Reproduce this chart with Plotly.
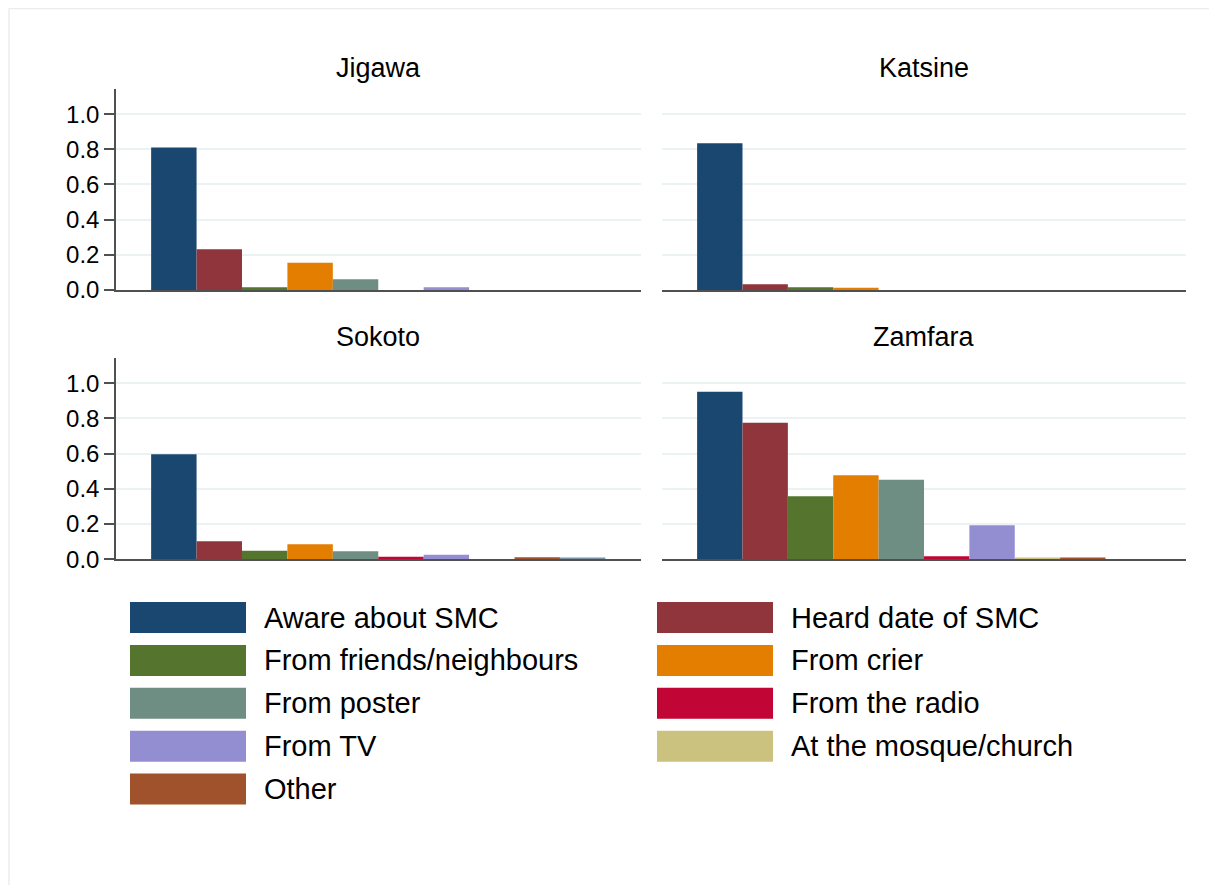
import plotly.graph_objects as go

# ---------------- data ----------------
panels = ["Jigawa", "Katsine", "Sokoto", "Zamfara"]
series = ["Aware about SMC", "Heard date of SMC", "From friends/neighbours",
          "From crier", "From poster", "From the radio", "From TV",
          "At the mosque/church", "Other", "(unlabelled)"]
colors = ["rgb(26,71,111)", "rgb(144,53,59)", "rgb(85,117,47)", "rgb(227,126,0)",
          "rgb(110,142,132)", "rgb(193,5,52)", "rgb(147,141,210)",
          "rgb(202,194,126)", "rgb(160,82,45)", "rgb(123,146,168)"]
jigawa  = [0.81, 0.232, 0.016, 0.155, 0.061, 0.0, 0.015, 0.0, 0.0, 0.0]
katsine = [0.835, 0.032, 0.015, 0.013, 0.0, 0.0, 0.0, 0.0, 0.0, 0.0]
sokoto  = [0.597, 0.102, 0.049, 0.085, 0.045, 0.015, 0.026, 0.0, 0.012, 0.010]
zamfara = [0.951, 0.776, 0.358, 0.477, 0.452, 0.017, 0.193, 0.010, 0.010, 0.0]
values = [jigawa, katsine, sokoto, zamfara]
in_legend = [True] * 9 + [False]
ytick_vals = [0.0, 0.2, 0.4, 0.6, 0.8, 1.0]
ytick_text = ["0.0", "0.2", "0.4", "0.6", "0.8", "1.0"]

OFF = 8  # page body margin
W, H = 1217 - OFF, 885 - OFF
FONT = "Liberation Sans, Arial, Helvetica, sans-serif"
AXC = "rgb(80,80,80)"
GRID = "rgb(234,242,243)"


def px(x):
    return (x - OFF) / W


def py(y):
    return 1 - (y - OFF) / H


fig = go.Figure()

# panel geometry (pixels in the page)
xdoms = [(116, 640.5), (662, 1186), (116, 640.5), (662, 1186)]
ydoms = [(89, 290), (89, 290), (358, 559.3), (358, 559.3)]

for p in range(4):
    ax = "" if p == 0 else str(p + 1)
    for s, name in enumerate(series):
        fig.add_trace(go.Bar(
            x=[0], y=[values[p][s]], name=name,
            marker=dict(color=colors[s], line=dict(width=0)),
            xaxis="x" + ax, yaxis="y" + ax, showlegend=False,
            offsetgroup=str(s),
        ))
    left = p in (0, 2)
    fig.layout["xaxis" + ax] = dict(
        domain=[px(xdoms[p][0]), px(xdoms[p][1])], range=[-0.5, 0.5],
        showticklabels=False, ticks="", showgrid=False, zeroline=False,
        showline=True, linecolor=AXC, linewidth=2, anchor="y" + ax,
        fixedrange=True,
    )
    fig.layout["yaxis" + ax] = dict(
        domain=[py(ydoms[p][1]), py(ydoms[p][0])], range=[0, 1.143],
        tickvals=ytick_vals, ticktext=ytick_text,
        showticklabels=left, ticks="outside" if left else "",
        ticklen=10, tickwidth=1.5, tickcolor=AXC,
        showline=left, linecolor=AXC, linewidth=1.5,
        showgrid=True, gridcolor=GRID, gridwidth=1.5, zeroline=False,
        tickfont=dict(size=24, color="black", family=FONT),
        anchor="x" + ax, automargin=False, fixedrange=True,
    )
    # panel title
    cx = (xdoms[p][0] + xdoms[p][1]) / 2
    ty = 68 if p < 2 else 337
    fig.add_annotation(x=px(cx), y=py(ty), xref="paper", yref="paper",
                       text=panels[p], showarrow=False,
                       font=dict(size=27, color="black", family=FONT),
                       xanchor="center", yanchor="middle")

# manual legend (two columns, row-major)
shapes = []
legend_items = [i for i in range(len(series)) if in_legend[i]]
for k, s in enumerate(legend_items):
    row, col = divmod(k, 2)
    yc = 617.5 + 42.9 * row
    bx0, bx1, tx = (130, 246, 262) if col == 0 else (657, 773, 789)
    shapes.append(dict(type="rect", xref="paper", yref="paper",
                       x0=px(bx0), x1=px(bx1), y0=py(yc + 15.5), y1=py(yc - 15.5),
                       fillcolor=colors[s], line=dict(width=0)))
    fig.add_annotation(x=px(tx), y=py(yc), xref="paper", yref="paper",
                       text=series[s], showarrow=False,
                       font=dict(size=29, color="black", family=FONT),
                       xanchor="left", yanchor="middle")

# outer frame
shapes.append(dict(type="line", xref="paper", yref="paper",
                   x0=px(9), x1=px(1240), y0=py(8.5), y1=py(8.5),
                   line=dict(color="rgb(236,236,236)", width=1.5)))
shapes.append(dict(type="line", xref="paper", yref="paper",
                   x0=px(9), x1=px(9), y0=py(8.5), y1=py(910),
                   line=dict(color="rgb(236,236,236)", width=1.5)))

fig.update_layout(
    width=W, height=H, margin=dict(l=0, r=0, t=0, b=0),
    paper_bgcolor="white", plot_bgcolor="white",
    barmode="group", bargap=0.134, bargroupgap=0,
    showlegend=False, shapes=shapes,
    font=dict(family=FONT, color="black"),
)

fig.write_html("out.html")
